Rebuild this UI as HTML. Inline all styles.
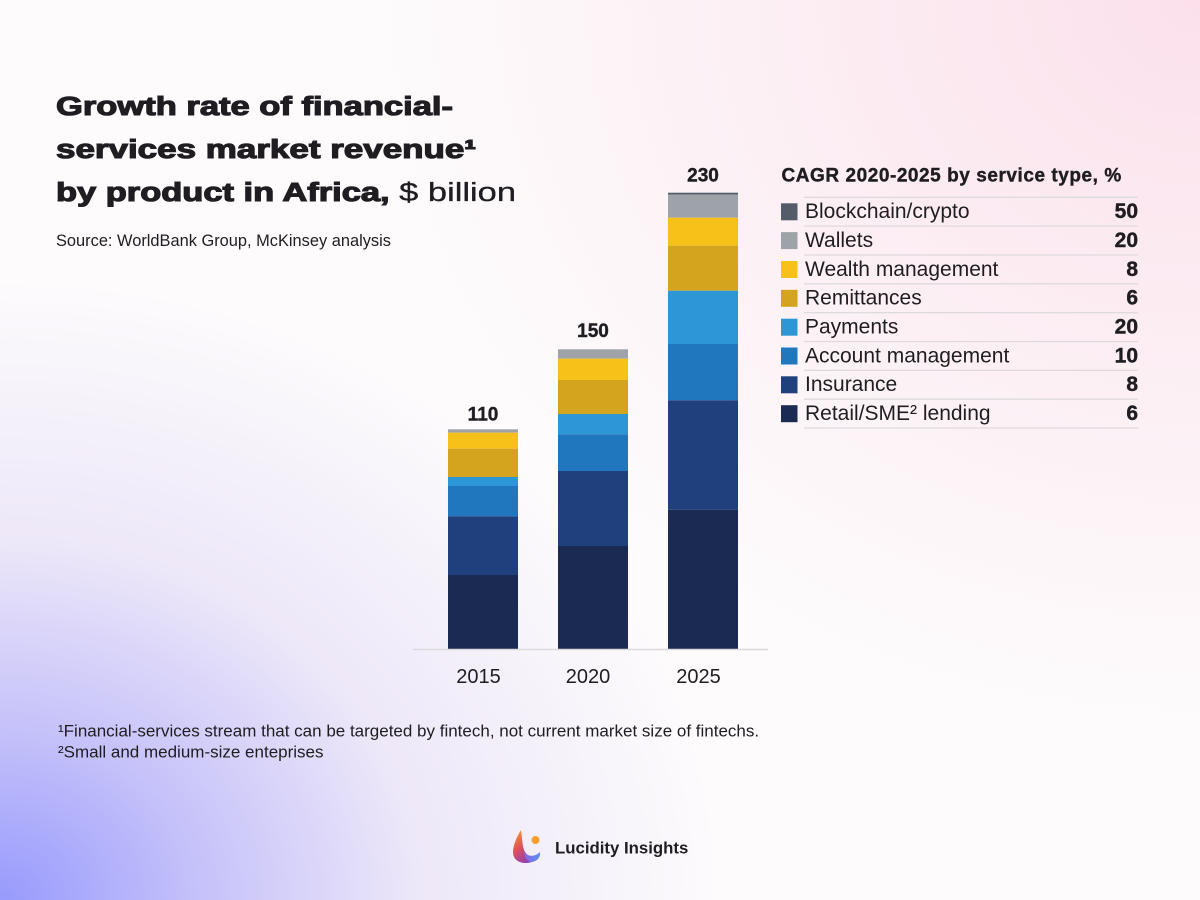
<!DOCTYPE html>
<html>
<head>
<meta charset="utf-8">
<style>
  html, body { margin:0; padding:0; }
  body {
    width:1200px; height:900px; overflow:hidden;
    background:
      radial-gradient(ellipse 720px 620px at 0% 100%, rgba(152,154,253,1) 0%, rgba(188,184,249,0.85) 28%, rgba(224,215,246,0.55) 58%, rgba(255,255,255,0) 100%),
      radial-gradient(ellipse 820px 720px at 100% 0%, rgba(251,224,235,1) 0%, rgba(252,233,240,0.7) 50%, rgba(255,255,255,0) 100%),
      #fdfbfc;
  }
  svg { position:absolute; left:0; top:0; }
  text { font-family: "Liberation Sans", sans-serif; fill:#1f1d21; }
</style>
</head>
<body>
<svg width="1200" height="900" viewBox="0 0 1200 900" xmlns="http://www.w3.org/2000/svg">
  <defs>
    <linearGradient id="lg1" x1="0" y1="0" x2="0.6" y2="1">
      <stop offset="0" stop-color="#f7a623"/>
      <stop offset="0.5" stop-color="#e3505a"/>
      <stop offset="1" stop-color="#8a3fb8"/>
    </linearGradient>
    <linearGradient id="lg2" x1="0" y1="0" x2="1" y2="0">
      <stop offset="0" stop-color="#8d66e0"/>
      <stop offset="1" stop-color="#5a8ff0"/>
    </linearGradient>
  </defs>

  <!-- Title -->
  <text x="56" y="115" font-size="25.5" font-weight="bold" textLength="397" lengthAdjust="spacingAndGlyphs" stroke="#1f1d21" stroke-width="1.1">Growth rate of financial-</text>
  <text x="56" y="158" font-size="25.5" font-weight="bold" textLength="420" lengthAdjust="spacingAndGlyphs" stroke="#1f1d21" stroke-width="1.1">services market revenue¹</text>
  <text x="56" y="201" font-size="25.5" textLength="460" lengthAdjust="spacingAndGlyphs"><tspan font-weight="bold" stroke="#1f1d21" stroke-width="1.1">by product in Africa, </tspan><tspan stroke="#1f1d21" stroke-width="0.3">$ billion</tspan></text>

  <text x="56" y="246" font-size="16.4">Source: WorldBank Group, McKinsey analysis</text>

  <!-- Bars 2015 -->
  <rect x="448" y="429.3" width="70" height="3.4" fill="#9ea3a9"/>
  <rect x="448" y="432.7" width="70" height="16" fill="#f6c118"/>
  <rect x="448" y="448.7" width="70" height="28.3" fill="#d4a41e"/>
  <rect x="448" y="477" width="70" height="9" fill="#2d97d6"/>
  <rect x="448" y="486" width="70" height="30.3" fill="#2077bd"/>
  <rect x="448" y="516.3" width="70" height="58.7" fill="#20407d"/>
  <rect x="448" y="575" width="70" height="74" fill="#1b2a52"/>

  <!-- Bars 2020 -->
  <rect x="558" y="349.3" width="70" height="9.4" fill="#9ea3a9"/>
  <rect x="558" y="358.7" width="70" height="21.3" fill="#f6c118"/>
  <rect x="558" y="380" width="70" height="34" fill="#d4a41e"/>
  <rect x="558" y="414" width="70" height="20.3" fill="#2d97d6"/>
  <rect x="558" y="434.3" width="70" height="36.7" fill="#2077bd"/>
  <rect x="558" y="471" width="70" height="75" fill="#20407d"/>
  <rect x="558" y="546" width="70" height="103" fill="#1b2a52"/>

  <!-- Bars 2025 -->
  <rect x="668" y="192.7" width="70" height="2" fill="#525d69"/>
  <rect x="668" y="194.7" width="70" height="23" fill="#9ea3a9"/>
  <rect x="668" y="217.7" width="70" height="28" fill="#f6c118"/>
  <rect x="668" y="245.7" width="70" height="45" fill="#d4a41e"/>
  <rect x="668" y="290.7" width="70" height="53.3" fill="#2d97d6"/>
  <rect x="668" y="344" width="70" height="56.3" fill="#2077bd"/>
  <rect x="668" y="400.3" width="70" height="109.4" fill="#20407d"/>
  <rect x="668" y="509.7" width="70" height="139.3" fill="#1b2a52"/>

  <!-- axis -->
  <line x1="413" y1="649.5" x2="768" y2="649.5" stroke="#dcdadd" stroke-width="1.5"/>

  <!-- value labels -->
  <text x="483" y="420.5" font-size="19" font-weight="bold" text-anchor="middle" stroke="#1f1d21" stroke-width="0.4">110</text>
  <text x="593" y="337" font-size="19" font-weight="bold" text-anchor="middle" stroke="#1f1d21" stroke-width="0.4">150</text>
  <text x="703" y="181.5" font-size="19" font-weight="bold" text-anchor="middle" stroke="#1f1d21" stroke-width="0.4">230</text>

  <!-- year labels -->
  <text x="478.5" y="683" font-size="20" text-anchor="middle">2015</text>
  <text x="588" y="683" font-size="20" text-anchor="middle">2020</text>
  <text x="698.5" y="683" font-size="20" text-anchor="middle">2025</text>

  <!-- Legend -->
  <text x="781.5" y="181.7" font-size="19" font-weight="bold" letter-spacing="0.55" stroke="#1f1d21" stroke-width="0.4">CAGR 2020-2025 by service type, %</text>
  <g stroke="#dedadf" stroke-width="1.3">
    <line x1="804" y1="197.3" x2="1138" y2="197.3"/>
    <line x1="804" y1="226.1" x2="1138" y2="226.1"/>
    <line x1="804" y1="255" x2="1138" y2="255"/>
    <line x1="804" y1="283.8" x2="1138" y2="283.8"/>
    <line x1="804" y1="312.7" x2="1138" y2="312.7"/>
    <line x1="804" y1="341.5" x2="1138" y2="341.5"/>
    <line x1="804" y1="370.3" x2="1138" y2="370.3"/>
    <line x1="804" y1="399.2" x2="1138" y2="399.2"/>
    <line x1="804" y1="428" x2="1138" y2="428"/>
  </g>
  <rect x="781" y="203.3" width="16.5" height="17" fill="#525d69"/>
  <rect x="781" y="232.1" width="16.5" height="17" fill="#9ea3a9"/>
  <rect x="781" y="261" width="16.5" height="17" fill="#f6c118"/>
  <rect x="781" y="289.8" width="16.5" height="17" fill="#d4a41e"/>
  <rect x="781" y="318.7" width="16.5" height="17" fill="#2d97d6"/>
  <rect x="781" y="347.5" width="16.5" height="17" fill="#2077bd"/>
  <rect x="781" y="376.3" width="16.5" height="17" fill="#20407d"/>
  <rect x="781" y="405.2" width="16.5" height="17" fill="#1b2a52"/>

  <g font-size="21">
    <text x="805" y="218.2">Blockchain/crypto</text>
    <text x="805" y="247">Wallets</text>
    <text x="805" y="275.9">Wealth management</text>
    <text x="805" y="304.7">Remittances</text>
    <text x="805" y="333.6">Payments</text>
    <text x="805" y="362.4">Account management</text>
    <text x="805" y="391.2">Insurance</text>
    <text x="805" y="420.1">Retail/SME² lending</text>
  </g>
  <g font-size="21" font-weight="bold" text-anchor="end" stroke="#1f1d21" stroke-width="0.4">
    <text x="1138" y="218.2">50</text>
    <text x="1138" y="247">20</text>
    <text x="1138" y="275.9">8</text>
    <text x="1138" y="304.7">6</text>
    <text x="1138" y="333.6">20</text>
    <text x="1138" y="362.4">10</text>
    <text x="1138" y="391.2">8</text>
    <text x="1138" y="420.1">6</text>
  </g>

  <!-- Footnotes -->
  <text x="58" y="736.7" font-size="17">¹Financial-services stream that can be targeted by fintech, not current market size of fintechs.</text>
  <text x="58" y="757.3" font-size="17">²Small and medium-size enteprises</text>

  <!-- Logo -->
  <path d="M521 830 C516 838 513 846 513 852 C513 859 518 863 526 863 C531 863 535 861 537 858 C531 858 526 855 524 850 C522 844 522 836 521 830 Z" fill="url(#lg1)"/>
  <path d="M524 852 C528 857 535 857 540 852 C541 856 538 861 532 862 C528 862 525 859 524 852 Z" fill="url(#lg2)"/>
  <circle cx="535.5" cy="840" r="4" fill="#f5a030"/>
  <text x="555" y="853.3" font-size="16.8" font-weight="bold" fill="#141216">Lucidity Insights</text>
</svg>
</body>
</html>
